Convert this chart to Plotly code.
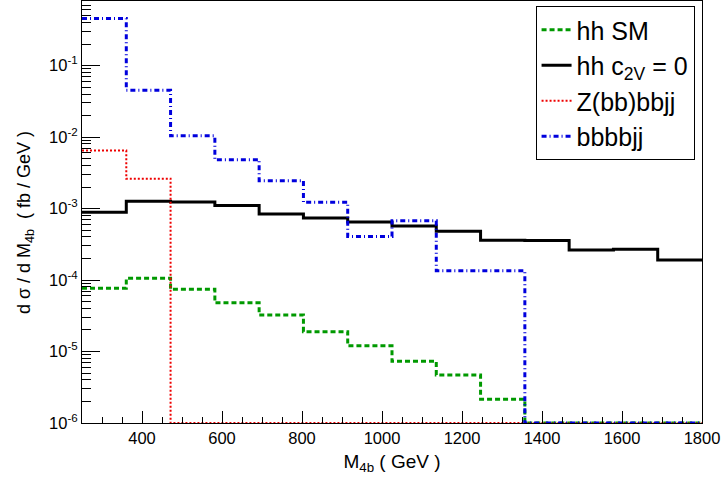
import plotly.graph_objects as go

# Bin edges (GeV): 14 equal bins from 250 to 1800
edges = [250 + i * (1800 - 250) / 14 for i in range(15)]

hh_sm = [7.7e-5, 1.06e-4, 7.4e-5, 4.8e-5, 3.24e-5, 1.89e-5, 1.20e-5, 7.3e-6,
         4.7e-6, 2.15e-6, 0, 0, 0, 0]
hh_c2v0 = [8.9e-4, 1.26e-3, 1.23e-3, 1.10e-3, 8.4e-4, 7.4e-4, 6.5e-4, 5.7e-4,
           4.8e-4, 3.6e-4, 3.56e-4, 2.62e-4, 2.70e-4, 1.91e-4]
zbb = [6.5e-3, 2.62e-3, 0, 0, 0, 0, 0, 0, 0, 0, 0, 0, 0, 0]
bbbbjj = [0.455, 0.0453, 0.0104, 4.83e-3, 2.45e-3, 1.22e-3, 4.06e-4, 6.74e-4,
          1.35e-4, 1.35e-4, 0, 0, 0, 0]

names = ["hh SM", "hh c<sub>2V</sub> = 0", "Z(bb)bbjj", "bbbbjj"]
YMIN, YMAX = 1e-6, 0.8
xtickvals = [400, 600, 800, 1000, 1200, 1400, 1600, 1800]
xticktext = [str(v) for v in xtickvals]
ytickvals = [1e-6, 1e-5, 1e-4, 1e-3, 1e-2, 1e-1]
yticktext = ["10<sup>-6</sup>", "10<sup>-5</sup>", "10<sup>-4</sup>",
             "10<sup>-3</sup>", "10<sup>-2</sup>", "10<sup>-1</sup>"]
xtitle = "M<sub>4b</sub> ( GeV )"
ytitle = "d σ / d M<sub>4b</sub>  ( fb / GeV )"

FONT = "Liberation Sans, Arial, Helvetica, sans-serif"


def step(vals):
    v = [max(val, YMIN) for val in vals]
    return edges, v + [v[-1]]


styles = [
    dict(color="#009900", width=3, dash="5px,3px"),
    dict(color="black", width=3),
    dict(color="#ee0000", width=2, dash="2px,2px"),
    dict(color="#0000dd", width=3, dash="5px,3px,1px,3px"),
]

fig = go.Figure()
for name, vals, st in zip(names, [hh_sm, hh_c2v0, zbb, bbbbjj], styles):
    x, y = step(vals)
    fig.add_trace(go.Scatter(x=x, y=y, mode="lines", line_shape="hv",
                             line=st, name=name, legendgroup=name))

minor_y = [m * 10 ** e for e in range(-6, 0) for m in range(2, 10)]

fig.update_layout(
    width=722, height=477,
    margin=dict(l=82, r=20, t=1, b=54),
    paper_bgcolor="white", plot_bgcolor="white",
    font=dict(family=FONT, color="black", size=17),
    showlegend=True,
    legend=dict(x=0.988, y=0.988, xanchor="right", yanchor="top",
                bgcolor="white", bordercolor="black", borderwidth=1,
                font=dict(size=25, family=FONT), tracegroupgap=0,
                traceorder="normal"),
    xaxis=dict(range=[250, 1800.01], tickvals=xtickvals, ticktext=xticktext,
               ticks="inside", ticklabeloverflow="allow",
               ticklen=12, tickwidth=1, tickcolor="black",
               showline=True, linecolor="black", linewidth=1, mirror=True,
               showgrid=False, zeroline=False,
               tickfont=dict(size=16.5),
               minor=dict(dtick=50, tick0=0, ticks="inside", ticklen=6,
                          tickcolor="black", showgrid=False),
               title=dict(text=xtitle, font=dict(size=19), standoff=8)),
    yaxis=dict(type="log", range=[-6, -0.097], tickvals=ytickvals,
               ticktext=yticktext, ticks="inside", ticklen=18, tickwidth=1,
               tickcolor="black", showline=True, linecolor="black",
               linewidth=1, mirror=True, showgrid=False, zeroline=False,
               tickfont=dict(size=16.5),
               minor=dict(tickvals=minor_y, ticks="inside", ticklen=9,
                          tickcolor="black", showgrid=False)),
    annotations=[dict(text=ytitle, xref="paper", yref="paper",
                      x=-0.092, y=0.476, xanchor="center", yanchor="middle",
                      textangle=-90, showarrow=False,
                      font=dict(size=18, family=FONT))],
)

fig.write_html("out.html", config={"displayModeBar": False},
               post_script="document.body.style.margin='0px';"
                           "document.body.style.overflow='hidden';")
